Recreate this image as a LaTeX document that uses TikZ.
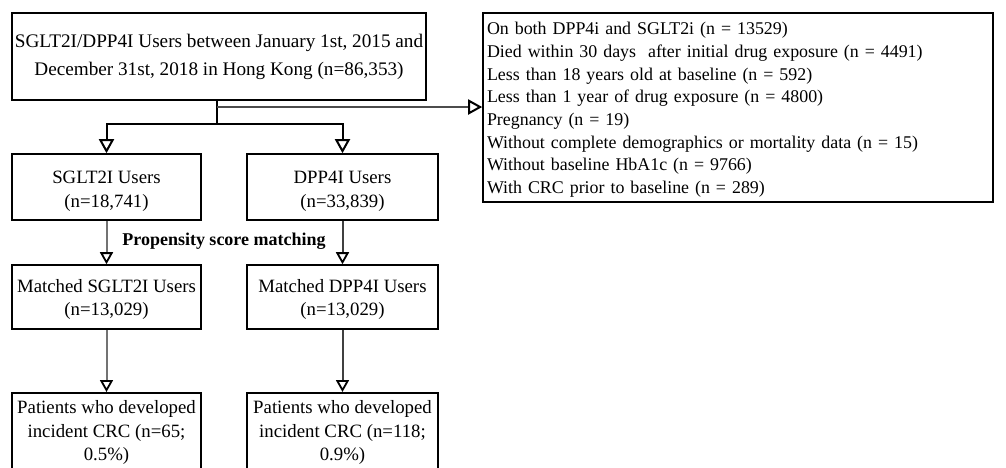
\documentclass[tikz,border=0pt]{standalone}
\usepackage{fontspec}
\setmainfont{Liberation Serif}
\usetikzlibrary{arrows.meta}
\begin{document}
\begin{tikzpicture}[x=1pt,y=-1pt,
  box/.style={draw=black,line width=1.6pt,rectangle,inner sep=0pt,align=center,
    font=\fontsize{18.8}{23.5}\selectfont},
  conn/.style={line width=2pt},
  tip/.style={-{Triangle[open,width=13pt,length=12pt,line width=1.8pt,color=black]}},
  bigtip/.style={-{Triangle[open,width=15pt,length=14pt,line width=2pt,color=black]}}]
\useasboundingbox (0,0) rectangle (1006,467);
\clip (0,0) rectangle (1006,467);
\node[box,minimum width=414pt,minimum height=87pt,font=\fontsize{19.2}{28}\selectfont] (top) at (219,56.5)
  {SGLT2I/DPP4I Users between January 1st, 2015 and\\December 31st, 2018 in Hong Kong (n=86,353)};
\node[box,minimum width=510pt,minimum height=189pt,align=left,text width=502pt,
  font=\fontsize{17.9}{22.7}\selectfont] (excl) at (738,107.5)
  {\rule{0pt}{17pt}On both DPP4i and SGLT2i (n = 13529)\\
   Died within 30 days\ \ after initial drug exposure (n = 4491)\\
   Less than 18 years old at baseline (n = 592)\\
   Less than 1 year of drug exposure (n = 4800)\\
   Pregnancy (n = 19)\\
   Without complete demographics or mortality data (n = 15)\\
   Without baseline HbA1c (n = 9766)\\
   With CRC prior to baseline (n = 289)};
\node[box,minimum width=189pt,minimum height=66pt] (sglt) at (106.5,187) {\rule{0pt}{21pt}SGLT2I Users\\(n=18,741)};
\node[box,minimum width=191pt,minimum height=66pt] (dpp) at (342.5,187) {\rule{0pt}{21pt}DPP4I Users\\(n=33,839)};
\node[box,minimum width=189pt,minimum height=64pt] (msglt) at (106.5,297) {\rule{0pt}{18pt}Matched SGLT2I Users\\(n=13,029)};
\node[box,minimum width=191pt,minimum height=64pt] (mdpp) at (342.5,297) {\rule{0pt}{18pt}Matched DPP4I Users\\(n=13,029)};
\node[box,minimum width=189pt,minimum height=88pt,anchor=north] (osglt) at (106.5,392)
  {Patients who developed\\incident CRC (n=65;\\0.5\%)\rule[-12pt]{0pt}{0pt}};
\node[box,minimum width=191pt,minimum height=88pt,anchor=north] (odpp) at (342.5,392)
  {Patients who developed\\incident CRC (n=118;\\0.9\%)\rule[-12pt]{0pt}{0pt}};
\node[font=\bfseries\fontsize{18}{20}\selectfont] (psm) at (224,241) {Propensity score matching};
\coordinate (j) at (217,107);
\coordinate (b) at (217,124);
\draw[conn,line width=2.5pt] (top.south -| j) -- (b);
\draw[conn,line width=2.5pt] (sglt.north |- b) -- (dpp.north |- b);
\draw[conn,bigtip,draw=black!70] (j) -- (excl.west |- j);
\draw[conn,bigtip] (b) -| (sglt.north);
\draw[conn,bigtip] (b) -| (dpp.north);
\draw[conn,tip,draw=black!55] (sglt.south) -- (msglt.north);
\draw[conn,tip,draw=black!75] (dpp.south) -- (mdpp.north);
\draw[conn,tip,draw=black!55] (msglt.south) -- (osglt.north);
\draw[conn,tip,draw=black!75] (mdpp.south) -- (odpp.north);
\end{tikzpicture}
\end{document}
